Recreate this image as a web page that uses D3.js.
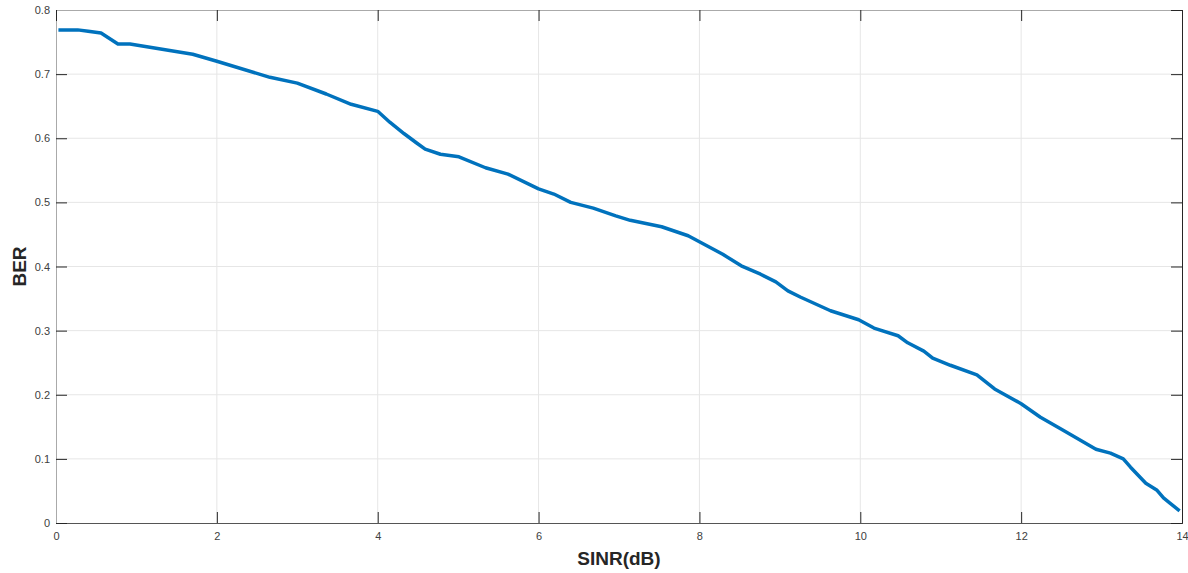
<!DOCTYPE html>
<html>
<head>
<meta charset="utf-8">
<script src="https://cdn.jsdelivr.net/npm/d3@7"></script>
<style>
  body { margin: 0; background: #fff; }
  svg text { font-family: Arial, "Liberation Sans", sans-serif; }
</style>
</head>
<body>
<svg id="chart"></svg>
<script>
// SINR values (dB)
var sinr = [0.03, 0.27, 0.4, 0.56, 0.77, 0.92, 1.7, 2.0, 2.66, 3.0, 3.36, 3.67, 4.0,
  4.15, 4.33, 4.48, 4.59, 4.78, 5.01, 5.34, 5.62, 6.0, 6.19, 6.4, 6.68, 6.96, 7.14,
  7.53, 7.86, 8.29, 8.52, 8.76, 8.95, 9.1, 9.26, 9.63, 9.98, 10.17, 10.47, 10.59,
  10.79, 10.9, 11.12, 11.45, 11.67, 12.0, 12.24, 12.49, 12.93, 13.11, 13.27, 13.36,
  13.55, 13.69, 13.77, 13.85, 13.97]
// bit error rate at each SINR
var ber = [0.769, 0.769, 0.767, 0.764, 0.747, 0.747, 0.731, 0.72, 0.695, 0.686, 0.669, 0.653, 0.642,
  0.625, 0.607, 0.593, 0.583, 0.575, 0.571, 0.554, 0.544, 0.521, 0.513, 0.50, 0.491, 0.479, 0.472,
  0.462, 0.448, 0.419, 0.401, 0.388, 0.376, 0.362, 0.352, 0.331, 0.317, 0.304, 0.292, 0.281,
  0.268, 0.257, 0.246, 0.231, 0.209, 0.186, 0.165, 0.147, 0.115, 0.109, 0.10, 0.087,
  0.062, 0.051, 0.039, 0.031, 0.019]

var xTicks = [0, 2, 4, 6, 8, 10, 12, 14]
var yTicks = [0, 0.1, 0.2, 0.3, 0.4, 0.5, 0.6, 0.7, 0.8]

var width = 1188, height = 573
var plot = { left: 56, top: 10, right: 1182, bottom: 523 }
var tickLen = 11

var svg = d3.select("#chart")
  .attr("width", width)
  .attr("height", height)

var xScale = d3.scaleLinear().domain([0, 14]).range([plot.left, plot.right])
var yScale = d3.scaleLinear().domain([0, 0.8]).range([plot.bottom, plot.top])

// grid lines
svg.append("g")
  .selectAll("line")
  .data(xTicks.slice(1, -1))
  .enter().append("line")
  .attr("x1", function(d) { return xScale(d) })
  .attr("x2", function(d) { return xScale(d) })
  .attr("y1", plot.top)
  .attr("y2", plot.bottom)
  .style("stroke", "#e6e6e6")

svg.append("g")
  .selectAll("line")
  .data(yTicks.slice(1, -1))
  .enter().append("line")
  .attr("x1", plot.left)
  .attr("x2", plot.right)
  .attr("y1", function(d) { return yScale(d) })
  .attr("y2", function(d) { return yScale(d) })
  .style("stroke", "#e6e6e6")

// the curve
var line = d3.line()
  .x(function(d, i) { return xScale(sinr[i]) })
  .y(function(d) { return yScale(d) })

svg.append("path")
  .datum(ber)
  .attr("d", line)
  .style("fill", "none")
  .style("stroke", "#0072bd")
  .style("stroke-width", 3.5)
  .style("stroke-linejoin", "round")

// axes (box with inward ticks)
var xAxis = svg.append("g")
  .attr("transform", "translate(0," + plot.bottom + ")")
  .call(d3.axisBottom(xScale).tickValues(xTicks).tickSize(-tickLen).tickPadding(9).tickFormat(d3.format("d")))
var yAxis = svg.append("g")
  .attr("transform", "translate(" + plot.left + ",0)")
  .call(d3.axisLeft(yScale).tickValues(yTicks).tickSize(-tickLen).tickPadding(6).tickFormat(function(d) { return d === 0 ? "0" : d3.format(".1f")(d) }))
var xTop = svg.append("g")
  .attr("transform", "translate(0," + plot.top + ")")
  .call(d3.axisTop(xScale).tickValues(xTicks).tickSize(-tickLen).tickFormat(""))
var yRight = svg.append("g")
  .attr("transform", "translate(" + plot.right + ",0)")
  .call(d3.axisRight(yScale).tickValues(yTicks).tickSize(-tickLen).tickFormat(""))

;[xAxis, yAxis, xTop, yRight].forEach(function(ax) {
  ax.selectAll(".tick line").style("stroke", "#262626")
  ax.selectAll(".tick text").style("fill", "#404040").style("font-size", "11px")
})
xAxis.select(".domain").style("stroke", "#555")
yAxis.select(".domain").style("stroke", "#aaa")
xTop.select(".domain").style("stroke", "#aaa")
yRight.select(".domain").style("stroke", "#262626")

// axis labels
svg.append("text")
  .attr("x", (plot.left + plot.right) / 2)
  .attr("y", 565)
  .attr("text-anchor", "middle")
  .style("font-size", "19px")
  .style("font-weight", "bold")
  .style("fill", "#262626")
  .text("SINR(dB)")

svg.append("text")
  .attr("transform", "translate(26," + (plot.top + plot.bottom) / 2 + ") rotate(-90)")
  .attr("text-anchor", "middle")
  .style("font-size", "19px")
  .style("font-weight", "bold")
  .style("fill", "#262626")
  .text("BER")
</script>
</body>
</html>
